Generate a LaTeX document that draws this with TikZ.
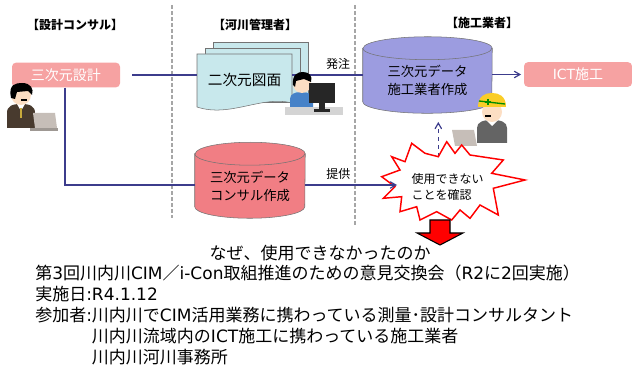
\documentclass[tikz,border=0pt]{standalone}
\usepackage{fontspec}
\setmainfont{Noto Sans CJK JP}
\newfontfamily\lat{DejaVu Sans}
\usetikzlibrary{shapes, arrows}

\definecolor{linkblue}{RGB}{60,60,140}
\definecolor{boxpink}{RGB}{246,162,162}
\definecolor{cylred}{RGB}{241,126,132}
\definecolor{cylpurple}{RGB}{156,156,224}
\definecolor{paper}{RGB}{200,232,236}
\definecolor{skin}{RGB}{252,222,195}
\definecolor{suit}{RGB}{72,58,46}
\definecolor{tiegold}{RGB}{200,170,60}
\definecolor{shirtblue}{RGB}{70,130,200}
\definecolor{workgray}{RGB}{100,100,100}
\definecolor{helmet}{RGB}{250,205,40}
\definecolor{laptop}{RGB}{198,190,184}
\definecolor{desk}{RGB}{212,212,212}

\tikzstyle{heading} = [inner sep=0pt, font=\bfseries\fontsize{9}{10}\selectfont]
\tikzstyle{task} = [rectangle, rounded corners=3pt, minimum width=81pt, minimum height=18.5pt, text centered, fill=boxpink, text=white, font=\fontsize{10.5}{12}\selectfont]
\tikzstyle{store} = [rectangle, inner sep=0pt, align=center, font=\fontsize{10}{13.5}\selectfont]
\tikzstyle{page} = [fill=paper, draw=black!55, line width=0.4pt]
\tikzstyle{link} = [draw=linkblue, line width=0.9pt]
\tikzstyle{edge} = [link, ->, >=angle 60]
\tikzstyle{sep} = [draw=black!35, line width=0.8pt, dash pattern=on 3pt off 1.5pt]
\tikzstyle{note} = [inner sep=0pt, font=\fontsize{12.75}{15.75}\selectfont]

\begin{document}
\begin{tikzpicture}[x=0.75pt, y=-0.75pt]
\useasboundingbox (0,0) rectangle (632,367);

% column headings and separators
\node (consult) at (75,25) [heading] {【設計コンサル】};
\node (river) at (255,25) [heading] {【河川管理者】};
\node (builder) at (482,23) [heading] {【施工業者】};
\draw [sep] (172,5) -- (172,218);
\draw [sep] (355,5) -- (355,225);

% drawing stack
\filldraw [page] (213,42) rectangle (308,96);
\filldraw [page] (205,48) rectangle (300,102);
\filldraw [page] (197,54) -- (292,54) -- (292,103) .. controls (262,95) and (230,118) .. (197,107) -- cycle;
\node (plan) at (244.5,80) [minimum width=71.25pt, font=\fontsize{11}{13}\selectfont] {二次元図面};

\node (design) at (66,75) [task] {三次元設計};
\node (ict) at (578,74.5) [task] {{\lat ICT}施工};

% data stores: body below the top ellipse, drawn as cylinders
\node (ccyl) at (427.5,80.75) [store, minimum width=96.75pt, minimum height=48.4pt] {};
\node (rcyl) at (250,186) [store, minimum width=82.5pt, minimum height=48pt] {};
\foreach \c/\col/\rx in {ccyl/cylpurple/48.4pt, rcyl/cylred/41.25pt} {
  \filldraw [fill=\col, draw=black!55] (\c.north west) -- ([yshift=8.6pt]\c.south west)
    arc [start angle=180, end angle=360, x radius=\rx, y radius=8.6pt] -- (\c.north east)
    arc [start angle=0, end angle=180, x radius=\rx, y radius=8.6pt] -- cycle;
  \draw [black!55] (\c.north west) arc [start angle=180, end angle=360, x radius=\rx, y radius=8.6pt];
}
\node (ctext) at (ccyl) [store] {三次元データ\\施工業者作成};
\node (rtext) at (rcyl) [store] {三次元データ\\コンサル作成};

\coordinate (feed) at (65,185);
\coordinate (hit) at (397,185);
\coordinate (gap) at (438.3,156.7);

\draw [link] ([xshift=9pt]design.east) -- (design.east -| plan.west);
\draw [link] (design.east -| plan.east) -- node[pos=0.65, above=4pt, inner sep=0pt, font=\fontsize{9}{10}\selectfont]{発注} (design.east -| ccyl.west);
\draw [edge] (ccyl.east |- ict.west) -- ([xshift=-2pt]ict.west);
\draw [link] (design.south -| feed) -- (feed) -- (feed -| rcyl.west);
\draw [edge, dashed, shorten >=6.5pt] (gap) -- (gap |- ccyl.south);

% consultant with laptop
\fill [suit] (7,128) -- (7,113) .. controls (7,106) and (12,104) .. (21,104) .. controls (30,104) and (35,106) .. (35,113) -- (35,128) -- cycle;
\fill [white] (17,104) -- (21,111) -- (25,104) -- cycle;
\draw [tiegold, line width=1.2pt] (21,108) -- (21,118);
\fill [skin] (21,95) circle (10);
\fill [black] (11,98) .. controls (8,84) and (16,83) .. (22,83) .. controls (31,83) and (34,89) .. (32,95) -- (28,91) -- (17,92) -- (15,99) -- cycle;
\draw [black, line width=1.2pt] (21,100) -- (27,100);
\fill [laptop] (33,113) -- (55,113) -- (57,128) -- (35,128) -- cycle;
\fill [laptop!80!black] (30,128) rectangle (58,131);

% river office staff at desk
\fill [desk] (285,107) rectangle (343,115);
\fill [shirtblue] (290,107) -- (290,99) .. controls (290,94) and (295,92) .. (301,92) .. controls (308,92) and (313,94) .. (313,99) -- (313,107) -- cycle;
\fill [skin] (302,84) circle (9);
\fill [black] (293,85) .. controls (292,74) and (298,72) .. (303,72) .. controls (309,72) and (313,76) .. (311,82) -- (304,79) -- (296,81) -- (295,87) -- cycle;
\fill [black!85] (309,83) rectangle (335,103);
\fill [black!85] (319,103) rectangle (325,110);
\fill [black!85] (314,109) rectangle (330,112);

% site worker with laptop
\fill [laptop] (452,130) -- (474,130) -- (477,146) -- (455,146) -- cycle;
\fill [workgray] (477,143) -- (477,128) .. controls (477,122) and (483,120) .. (492,120) .. controls (501,120) and (507,122) .. (507,128) -- (507,143) -- cycle;
\fill [white] (486,120) -- (492,126) -- (498,120) -- cycle;
\fill [skin] (492,112) circle (10);
\fill [helmet] (478,107) .. controls (478,96) and (485,93) .. (492,93) .. controls (499,93) and (506,96) .. (506,107) -- cycle;
\draw [green!55!black, line width=1pt] (479,101) -- (505,104);
\draw [green!55!black, line width=0.8pt] (488,99) -- (488,105) (485,102) -- (491,102);
\draw [black, line width=1.2pt] (485,116) -- (491,116);

% burst around the finding
\filldraw [fill=white, draw=red, line width=1.1pt]
  (391.7,156.7) -- (405,161.7) -- (411.7,143.3) -- (425,153.3) -- (gap) -- (446.7,141.7)
  -- (455,153.3) -- (461.7,145) -- (470,155) -- (503.3,160) -- (491.7,173.3) -- (525,180)
  -- (493.3,188.3) -- (498.3,215) -- (480,205) -- (470,218.3) -- (460,210) -- (451.7,220)
  -- (436.7,211.7) -- (420,220) -- (416.7,206.7) -- (400,211.7) -- (401.7,196.7)
  -- (383.3,198.3) -- (395,186.7) -- (381.7,176.7) -- (400,170) -- cycle;
\node (check) at (447.5,187) [align=left, inner sep=0pt, font=\fontsize{9}{11.5}\selectfont] {使用できない\\ことを確認};
\draw [edge] (feed -| rcyl.east) -- node[pos=0.36, above=4pt, inner sep=0pt, font=\fontsize{9}{10}\selectfont]{提供} (hit);

\filldraw [fill=red, draw=black, line width=0.8pt] (430,220) -- (450,220) -- (450,233) -- (463,233) -- (440,245) -- (417,233) -- (430,233) -- cycle;

% meeting notes
\node (why) at (320,253) [note] {なぜ、使用できなかったのか};
\node (minutes) at (35,265) [note, anchor=north west, align=left] {第{\lat 3}回川内川{\lat CIM}／{\lat i-Con}取組推進のための意見交換会（{\lat R2}に{\lat 2}回実施）\\実施日{\lat :R4.1.12}\\参加者{\lat :}川内川で{\lat CIM}活用業務に携わっている測量･設計コンサルタント\\\hphantom{参加者{\lat :}}川内川流域内の{\lat ICT}施工に携わっている施工業者\\\hphantom{参加者{\lat :}}川内川河川事務所};

\end{tikzpicture}
\end{document}
